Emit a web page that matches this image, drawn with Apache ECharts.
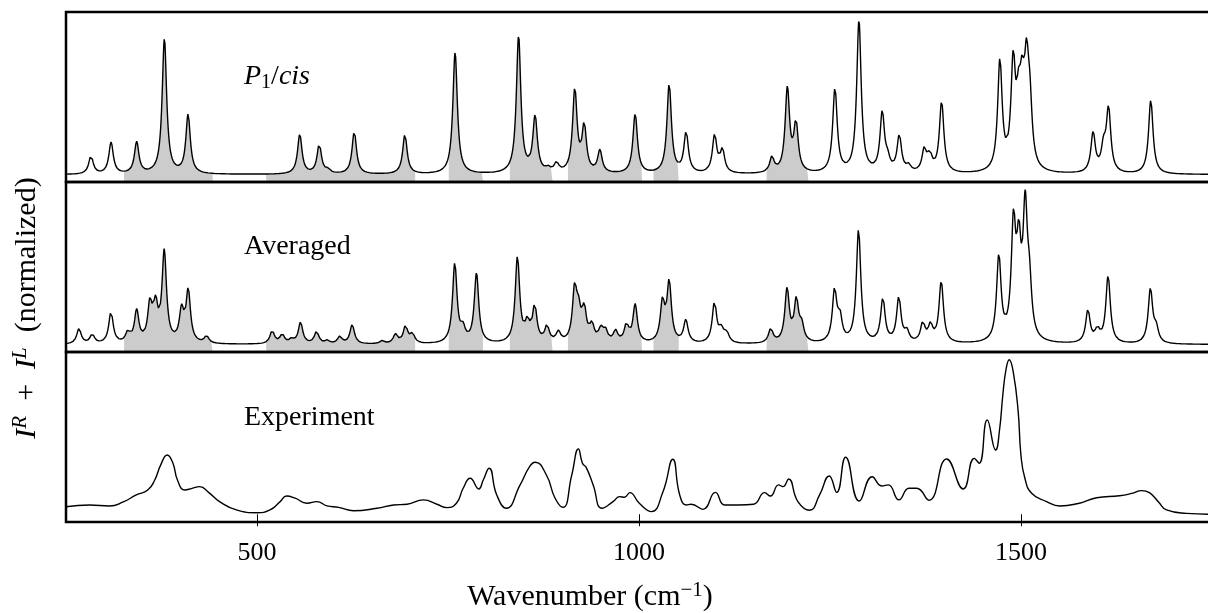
<!DOCTYPE html>
<html>
<head>
<meta charset="utf-8">
<script src="https://cdn.jsdelivr.net/npm/echarts@6/dist/echarts.min.js"></script>
<style>
  html, body { margin: 0; padding: 0; background: #fff; }
  #spectra { width: 1208px; height: 613px; }
</style>
</head>
<body>
<div id="spectra"></div>
<script>
// x range and tick labels (cm-1)
const xMin = 250
const xMax = 1750
const tickValues = [500, 1000, 1500]

// P1/cis calculated bands: position (cm-1) and peak height
const cisPos = [282.7, 309, 342.5, 378.8, 409.8, 556, 581.5, 593, 627.3, 693.6,
  759.3, 842.4, 864, 881, 892, 916, 928.3, 948.8, 995, 1039.5,
  1061.7, 1099, 1109.2, 1174, 1194.2, 1205.5, 1256.5, 1287.9, 1318.4, 1325.5,
  1340.7, 1352.9, 1373.4, 1380.8, 1396.1, 1472.4, 1489.8, 1496.9, 1501.6, 1507.3,
  1511.6, 1594.4, 1608, 1614.6, 1669.9]
const cisAmp = [18, 31, 31, 133, 58, 39, 29, 3.5, 42, 39,
  120, 135, 55, 3.8, 9, 81.5, 45, 22, 59, 88,
  40, 37, 22, 15, 82, 47, 83, 150, 58, 10,
  36, 6, 22, 15.5, 70, 108, 100, 50, 62, 87,
  53, 39, 22, 62, 73]

// averaged calculated bands
const avgPos = [267, 284.4, 308.9, 331, 342.5, 359.9, 367.3, 378.6, 401.3, 410,
  434, 519.9, 533, 545.2, 557, 578, 592, 608.4, 624.6, 663.8,
  681.3, 694.4, 703.5, 758.9, 769.7, 787.3, 840.9, 854, 863.5, 879.6,
  894.5, 915.8, 921, 928.3, 938.4, 950, 956, 969.3, 983.6, 995,
  1030.8, 1039.5, 1061.3, 1098.8, 1108, 1115, 1172.5, 1193.8, 1206, 1213,
  1256, 1263, 1287.4, 1319.2, 1340.1, 1350.6, 1371.5, 1381.6, 1395.6, 1471,
  1490.2, 1497.2, 1505.5, 1511, 1587.6, 1600, 1614, 1669.4, 1677]
const avgAmp = [15, 9, 31, 10, 31, 36, 33, 88, 30, 50,
  7, 13, 9, 4, 21, 12, 3, 7, 19, 3,
  9, 17, 9, 78, 12, 68, 84, 18, 35, 16,
  10, 50, 25, 30, 16, 12, 11, 11, 17, 37,
  38, 58, 22, 40, 12, 9, 14, 52, 40, 15,
  50, 22, 111, 43, 44, 10, 19, 16, 60, 83,
  108, 80, 120, 45, 32, 12, 66, 53, 13]

// Lorentzian half width used for the calculated bands (cm-1)
const bandHalfWidth = 3.5

// experiment
const expX = [250, 281, 307, 325, 342, 357, 366, 374, 382.5, 390,
  396, 405.6, 415, 425, 437, 451.5, 473, 500, 517, 530,
  538.7, 550, 565.4, 578.5, 591.6, 606.8, 626.4, 657, 678.8, 696.3,
  718, 735.5, 748.6, 761, 770, 779, 790.3, 796, 803.9, 813.8,
  826.5, 844.4, 857, 864.1, 878.8, 890.2, 900.6, 912, 920.7, 926,
  931, 940, 951.6, 966, 974.8, 981, 988, 1000.4, 1016.2, 1031.4,
  1044.2, 1053.3, 1062, 1068.4, 1083.7, 1100, 1112, 1130, 1150, 1164.4,
  1172, 1182.7, 1188.4, 1195.8, 1208, 1223.3, 1236.4, 1249, 1258.8, 1270.5,
  1288.3, 1305.3, 1317.6, 1326.3, 1340.3, 1353.3, 1363.4, 1379.5, 1402.7, 1424.4,
  1438.8, 1445.3, 1455.8, 1466.8, 1472, 1476.2, 1480.3, 1484.6, 1489.8, 1496.3,
  1499.9, 1505.1, 1513.9, 1533.5, 1550.9, 1575, 1599, 1629, 1645, 1658,
  1668, 1680, 1690.5, 1716.6, 1750]
const expY = [0.049, 0.060, 0.054, 0.080, 0.125, 0.157, 0.22, 0.32, 0.384, 0.33,
  0.22, 0.157, 0.168, 0.179, 0.14, 0.08, 0.028, 0.010, 0.028, 0.080,
  0.118, 0.104, 0.071, 0.082, 0.054, 0.045, 0.023, 0.039, 0.06, 0.065,
  0.093, 0.065, 0.043, 0.071, 0.17, 0.233, 0.164, 0.22, 0.298, 0.125,
  0.039, 0.19, 0.31, 0.337, 0.254, 0.104, 0.045, 0.254, 0.423, 0.33,
  0.302, 0.19, 0.039, 0.082, 0.114, 0.11, 0.14, 0.071, 0.017, 0.146,
  0.356, 0.125, 0.06, 0.065, 0.032, 0.142, 0.06, 0.06, 0.065, 0.14,
  0.118, 0.19, 0.179, 0.228, 0.082, 0.026, 0.125, 0.248, 0.142, 0.369,
  0.086, 0.243, 0.183, 0.19, 0.093, 0.168, 0.168, 0.091, 0.358, 0.164,
  0.362, 0.33, 0.61, 0.416, 0.55, 0.772, 0.934, 1.0, 0.923, 0.664,
  0.384, 0.233, 0.136, 0.082, 0.054, 0.07, 0.107, 0.12, 0.135, 0.153,
  0.14, 0.08, 0.028, 0.006, 0.0]

// shaded wavenumber windows
const shadeRanges = [[326, 442], [512, 707], [751, 796], [831, 887], [907, 1004], [1019, 1052], [1167, 1222]]

const serif = '"Liberation Serif", "DejaVu Serif", serif'

// sum of Lorentzian bands on a 0.5 cm-1 grid
const broaden = (pos, amp) => {
  const pts = []
  for (let x = xMin; x <= xMax; x += 0.5) {
    let y = 0
    for (let i = 0; i < pos.length; i++) {
      const d = (x - pos[i]) / bandHalfWidth
      y += amp[i] / (1 + d * d)
    }
    pts.push([x, y])
  }
  return pts
}

const cisCurve = broaden(cisPos, cisAmp)
const avgCurve = broaden(avgPos, avgAmp)
const expCurve = expX.map((x, i) => [x, expY[i]])

// matplotlib-like 5% margins
const yRange = (pts) => {
  const ys = pts.map(p => p[1])
  const lo = Math.min(...ys)
  const hi = Math.max(...ys)
  const pad = (hi - lo) * 0.05
  return { min: lo - pad, max: hi + pad }
}

const panelTops = [12, 182, 352]
const grid = panelTops.map(t => ({
  left: 66,
  top: t,
  width: 1146,
  height: 170,
  show: true,
  z: 10,
  outerBoundsMode: 'none',
  containLabel: false,
  backgroundColor: 'transparent',
  borderColor: '#000',
  borderWidth: 2.5
}))

const xAxis = [0, 1, 2].map(i => ({
  type: 'value',
  gridIndex: i,
  min: xMin,
  max: xMax,
  show: i === 2,
  axisLine: { show: false },
  splitLine: { show: false },
  axisTick: {
    show: i === 2,
    customValues: tickValues,
    length: 12,
    lineStyle: { color: '#000', width: 1 }
  },
  axisLabel: {
    show: i === 2,
    customValues: tickValues,
    formatter: v => String(v),
    color: '#000',
    fontFamily: serif,
    fontSize: 26,
    margin: 18
  }
}))

const yAxis = [cisCurve, avgCurve, expCurve].map((c, i) => ({
  type: 'value',
  gridIndex: i,
  show: false,
  ...yRange(c)
}))

const shadeSeries = (curve, idx) => shadeRanges.map(([a, b]) => ({
  type: 'line',
  xAxisIndex: idx,
  yAxisIndex: idx,
  data: curve.filter(p => p[0] >= a && p[0] <= b),
  showSymbol: false,
  silent: true,
  z: 1,
  lineStyle: { width: 0 },
  areaStyle: { color: '#cccccc', opacity: 1, origin: 'start' }
}))

const spectrumLine = (curve, idx, smooth) => ({
  type: 'line',
  xAxisIndex: idx,
  yAxisIndex: idx,
  data: curve,
  showSymbol: false,
  silent: true,
  smooth: smooth,
  z: 3,
  lineStyle: { color: '#000', width: 1.4 }
})

const series = [
  ...shadeSeries(cisCurve, 0),
  ...shadeSeries(avgCurve, 1),
  spectrumLine(cisCurve, 0, false),
  spectrumLine(avgCurve, 1, false),
  spectrumLine(expCurve, 2, 0.5)
]

const textRich = {
  r: { fontFamily: serif, fontSize: 28, lineHeight: 32, color: '#000' },
  i: { fontFamily: serif, fontSize: 28, lineHeight: 32, fontStyle: 'italic', color: '#000' },
  sub: { fontFamily: serif, fontSize: 20, verticalAlign: 'bottom', color: '#000' }
}

const bigRich = {
  r: { fontFamily: serif, fontSize: 30, lineHeight: 34, color: '#000' },
  i: { fontFamily: serif, fontSize: 30, lineHeight: 34, fontStyle: 'italic', color: '#000' },
  sup: { fontFamily: serif, fontSize: 21, verticalAlign: 'top', color: '#000' },
  supi: { fontFamily: serif, fontSize: 21, fontStyle: 'italic', verticalAlign: 'top', color: '#000' }
}

const label = (text, x, y, rich, align, rotation) => ({
  type: 'text',
  x: x,
  y: y,
  z: 20,
  rotation: rotation || 0,
  style: {
    text: text,
    rich: rich,
    fill: '#000',
    align: align,
    verticalAlign: 'middle'
  }
})

const graphic = [
  label('{i|P}{sub|1}{r|/}{i|cis}', 244, 77, textRich, 'left'),
  label('{r|Averaged}', 244, 247, textRich, 'left'),
  label('{r|Experiment}', 244, 418, textRich, 'left'),
  label('{r|Wavenumber (cm}{sup|−1}{r|)}', 590, 597, bigRich, 'center'),
  label('{i|I}{supi|R}{r|  +  }{i|I}{supi|L}{r|  (normalized)}', 27, 308, bigRich, 'center', Math.PI / 2)
]

const chart = echarts.init(document.getElementById('spectra'), null, { renderer: 'canvas' })
chart.setOption({
  backgroundColor: '#fff',
  animation: false,
  grid: grid,
  xAxis: xAxis,
  yAxis: yAxis,
  series: series,
  graphic: graphic
})
</script>
</body>
</html>
